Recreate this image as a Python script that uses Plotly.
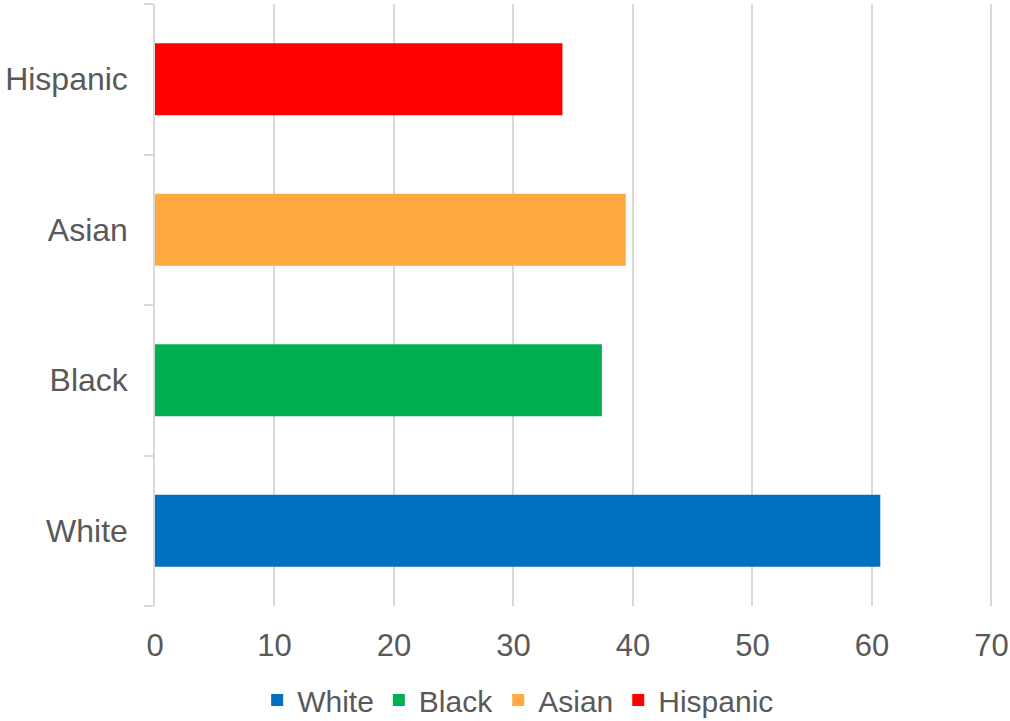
import plotly.graph_objects as go

categories = ["White", "Black", "Asian", "Hispanic"]
values = [60.7, 37.4, 39.4, 34.1]
colors = ["#0070C0", "#00B050", "#FFA940", "#FF0000"]
x_ticks = [0, 10, 20, 30, 40, 50, 60, 70]

W, H = 1010, 721
px_per_unit = (991.7 - 154.5) / 70
x_max = 70.3
ml, mt, mb = 154.5, 4, 115
mr = W - (154.5 + px_per_unit * x_max)
plot_h = H - mt - mb
plot_w = W - ml - mr

fig = go.Figure()
for cat, val, col in zip(categories, values, colors):
    fig.add_trace(go.Bar(
        y=[cat], x=[val], name=cat, orientation="h",
        marker=dict(color=col, line=dict(width=0)),
    ))

font = dict(family="Liberation Sans, Arial, sans-serif", color="#595959")

fig.update_layout(
    width=W, height=H,
    margin=dict(l=ml, r=mr, t=mt, b=mb, pad=0, autoexpand=False),
    paper_bgcolor="white", plot_bgcolor="white",
    barmode="overlay", bargap=0.52,
    font=font,
    showlegend=True,
    legend=dict(
        orientation="h", x=(518 - ml) / plot_w, xanchor="center",
        y=-(700 - (H - mb)) / plot_h, yanchor="middle",
        font=dict(size=30, **font), traceorder="normal",
        itemwidth=30, itemclick=False, itemsizing="constant",
    ),
    xaxis=dict(
        range=[0, x_max], tickvals=x_ticks, ticktext=[str(v) for v in x_ticks],
        showgrid=True, gridcolor="#D9D9D9", gridwidth=1.5,
        zeroline=False, showline=False, ticks="",
        tickfont=dict(size=31, **font), ticklabelstandoff=18,
        fixedrange=True,
    ),
    yaxis=dict(
        type="category", categoryorder="array", categoryarray=categories,
        range=[-0.5, 3.5],
        showgrid=False, zeroline=False,
        showline=True, linecolor="#D9D9D9", linewidth=1.5,
        ticks="outside", tickson="boundaries", ticklen=9, tickcolor="#D9D9D9", tickwidth=1.5,
        tickfont=dict(size=32, **font), ticklabelstandoff=19,
        fixedrange=True,
    ),
)

fig.write_html("out.html")
